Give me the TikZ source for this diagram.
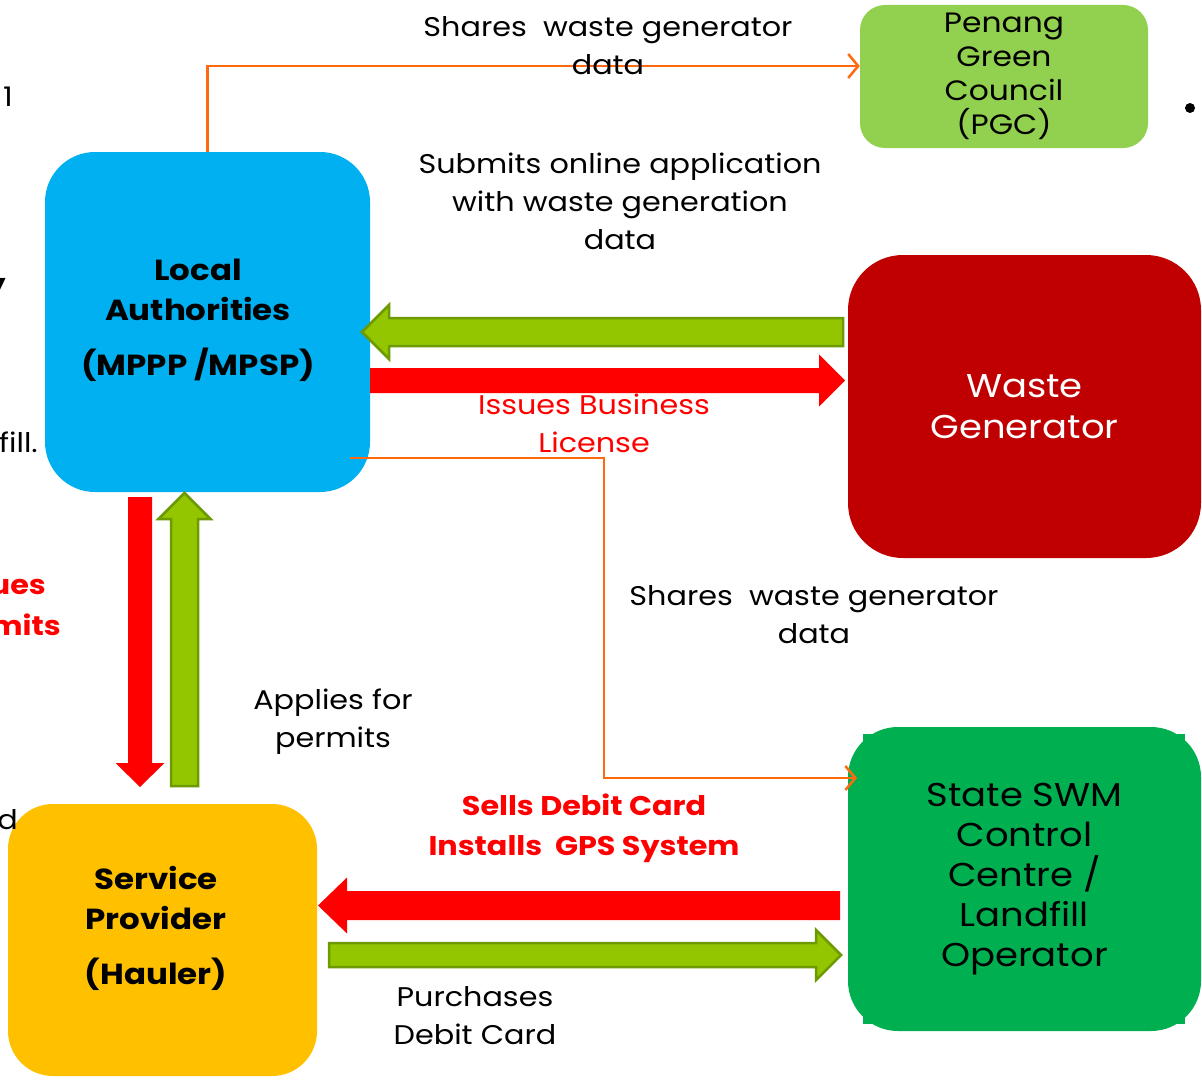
\documentclass[tikz,border=0pt]{standalone}
\usepackage{fontspec}
\setmainfont{Poppins}[FakeStretch=1.12]
\usetikzlibrary{arrows.meta,calc}
\definecolor{laC}{HTML}{00B0F0}
\definecolor{pgcC}{HTML}{92D050}
\definecolor{wgC}{HTML}{C00000}
\definecolor{swmC}{HTML}{00B050}
\definecolor{spC}{HTML}{FFC000}
\definecolor{grA}{HTML}{94C600}
\definecolor{grB}{HTML}{6C9A00}
\definecolor{rdA}{HTML}{FF0000}
\definecolor{orC}{HTML}{FF6A10}
\newcommand{\blockH}[6]{\path[#1] let \p1=(#2), \p2=(#3), \p3=($(#3)!#6!(#2)$) in (\x1,{\y1+#4}) -- (\x3,{\y1+#4}) -- (\x3,{\y1+#5}) -- (\x2,\y2) -- (\x3,{\y1-#5}) -- (\x3,{\y1-#4}) -- (\x1,{\y1-#4}) -- cycle;}
\newcommand{\blockV}[6]{\path[#1] let \p1=(#2), \p2=(#3), \p3=($(#3)!#6!(#2)$) in ({\x1+#4},\y1) -- ({\x1+#4},\y3) -- ({\x1+#5},\y3) -- (\x2,\y2) -- ({\x1-#5},\y3) -- ({\x1-#4},\y3) -- ({\x1-#4},\y1) -- cycle;}
\begin{document}
\begin{tikzpicture}[x=1pt,y=-1pt,
  box/.style={rectangle, inner sep=0pt, align=center},
  lbl/.style={align=center, inner sep=0pt, font=\fontsize{27}{38}\selectfont},
  rlbl/.style={lbl, text=rdA},
  oline/.style={draw=orC, line width=2.5pt, -{Straight Barb[length=10pt,width=24pt]}},
  garrow/.style={fill=grA, draw=grB, line width=2.5pt, line join=miter},
  rarrow/.style={fill=rdA}]
\clip (0,0) rectangle (1202,1081);
\fill[white] (0,0) rectangle (1202,1081);

% boxes
\node[box, fill=laC, rounded corners=50pt, minimum width=325pt, minimum height=340pt] (la) at (207.5,322) {};
\node[box, fill=pgcC, rounded corners=25pt, minimum width=288pt, minimum height=143pt,
      font=\fontsize{28}{34}\selectfont] (pgc) at (1004,76.5) {Penang\\Green\\Council\\(PGC)};
\node[box, fill=wgC, rounded corners=55pt, minimum width=353pt, minimum height=303pt,
      text=white, font=\fontsize{33}{41}\selectfont] (wg) at (1024.5,406.5) {Waste\\Generator};
\fill[swmC] (863,734) rectangle (1185,1024);
\node[box, fill=swmC, rounded corners=50pt, minimum width=353pt, minimum height=304pt,
      font=\fontsize{33}{40}\selectfont] (swm) at (1024.5,879) {State SWM\\Control\\Centre /\\Landfill\\Operator};
\node[box, fill=spC, rounded corners=45pt, minimum width=309pt, minimum height=272pt] (sp) at (162.5,940) {};

% box texts
\node[box, font=\bfseries\fontsize{29}{40}\selectfont] (lat) at (198,320) {Local\\Authorities\\[15pt](MPPP /MPSP)};
\node[box, font=\bfseries\fontsize{29}{40}\selectfont] (spt) at (156,928) {Service\\Provider\\[15pt](Hauler)};

% orange connectors
\draw[oline] (la.north) |- ($(pgc.west)+(0,-10.5)$);
\coordinate (o2s) at (350,458);
\coordinate (o2e) at (857,778);
\draw[oline] (o2s) -- (604,458) |- (o2e);

% block arrows
\coordinate (g1s) at (843,332); \coordinate (g1e) at (362,332);
\coordinate (r1s) at (370,380.5); \coordinate (r1e) at (845,380.5);
\coordinate (r2s) at (140,497); \coordinate (r2e) at (140,787);
\coordinate (g2s) at (184.5,786); \coordinate (g2e) at (184.5,493);
\coordinate (r3s) at (840,905.5); \coordinate (r3e) at (318,905.5);
\coordinate (g3s) at (329,955); \coordinate (g3e) at (841,955);
\blockH{garrow}{g1s}{g1e}{14pt}{27pt}{27pt}
\blockH{rarrow}{r1s}{r1e}{12.5pt}{26pt}{26pt}
\blockV{rarrow}{r2s}{r2e}{12pt}{24.5pt}{24pt}
\blockV{garrow}{g2s}{g2e}{13.5pt}{26pt}{26pt}
\blockH{rarrow}{r3s}{r3e}{14.5pt}{28pt}{29pt}
\blockH{garrow}{g3s}{g3e}{12pt}{25pt}{25pt}

% labels
\node[lbl] (l1) at (608,46) {Shares~~waste generator\\data};
\node[lbl] (l2) at (620,201) {Submits online application\\with waste generation\\data};
\node[rlbl] (l3) at (594,423) {Issues Business\\License};
\node[lbl] (l4) at (814,615) {Shares~~waste generator\\data};
\node[lbl] (l5) at (333,722) {Applies for\\permits};
\node[rlbl, font=\bfseries\fontsize{27}{40}\selectfont] (l6) at (584,828) {Sells Debit Card\\Installs~~GPS System};
\node[lbl] (l7) at (475,1016) {Purchases\\Debit Card};

% cut-off fragments at the left edge and bullet
\node[lbl, anchor=east] (f1) at (13,97) {1};
\node[lbl, anchor=east, font=\bfseries\fontsize{27}{38}\selectfont] (f2) at (6,290) {y};
\node[lbl, anchor=east] (f3) at (38,442) {fill.};
\node[rlbl, anchor=east, font=\bfseries\fontsize{27}{38}\selectfont] (f4) at (46,587) {ues};
\node[rlbl, anchor=east, font=\bfseries\fontsize{27}{38}\selectfont] (f5) at (61,625) {mits};
\node[lbl, anchor=east] (f6) at (18,820) {d};
\fill (1190,108) circle (5pt);
\end{tikzpicture}
\end{document}
